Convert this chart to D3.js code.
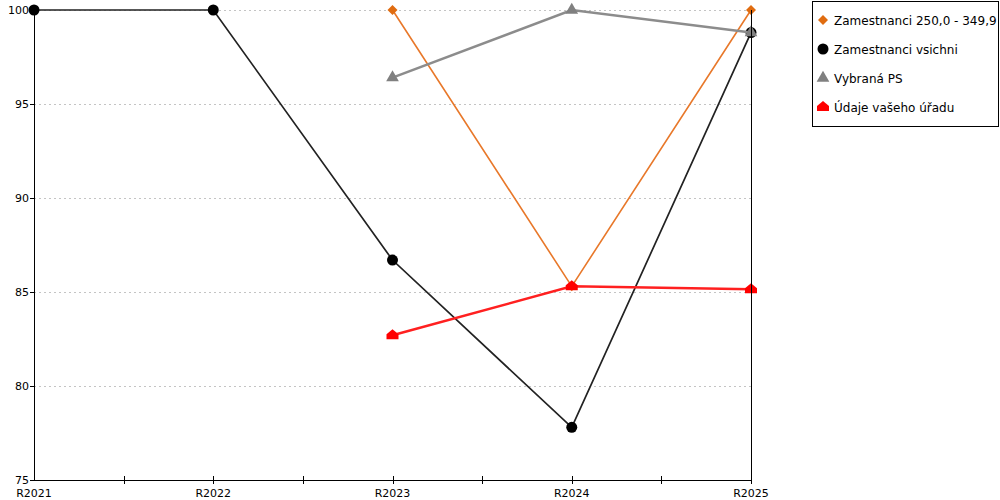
<!DOCTYPE html>
<html>
<head>
<meta charset="utf-8">
<script src="https://cdn.jsdelivr.net/npm/d3@7"></script>
<style>
  body { margin: 0; background: #fff; }
  text { font-family: "DejaVu Sans", Verdana, sans-serif; }
</style>
</head>
<body>
<script>
var years = ["R2021", "R2022", "R2023", "R2024", "R2025"];
var yTicks = [75, 80, 85, 90, 95, 100];

var seriesNames = ["Zamestnanci 250,0 - 349,9", "Zamestnanci vsichni", "Vybraná PS", "Údaje vašeho úřadu"];
var orangeVals = [null, null, 100, 85.3, 100];
var blackVals = [100, 100, 86.7, 77.8, 98.8];
var grayVals = [null, null, 96.4, 100, 98.8];
var redVals = [null, null, 82.7, 85.3, 85.15];

var W = 1000, H = 500;
var plotL = 34, plotR = 751, plotT = 10, plotB = 480;

var svg = d3.select("body").append("svg")
    .attr("width", W)
    .attr("height", H);

var x = d3.scalePoint().domain(years).range([plotL, plotR]);
var y = d3.scaleLinear().domain([75, 100]).range([plotB, plotT]);

// grid
svg.append("g").selectAll("line")
    .data(yTicks.filter(d => d > 75))
    .enter().append("line")
    .attr("x1", plotL).attr("x2", plotR)
    .attr("y1", d => y(d) + 0.5).attr("y2", d => y(d) + 0.5)
    .attr("stroke", "#c4c4c4")
    .attr("stroke-dasharray", "2,3");

// y axis
svg.append("line")
    .attr("x1", plotL + 0.5).attr("x2", plotL + 0.5)
    .attr("y1", plotT).attr("y2", plotB)
    .attr("stroke", "#000");
svg.append("g").selectAll("line")
    .data(yTicks).enter().append("line")
    .attr("x1", plotL - 4).attr("x2", plotL)
    .attr("y1", d => y(d) + 0.5).attr("y2", d => y(d) + 0.5)
    .attr("stroke", "#000");
svg.append("g").selectAll("text")
    .data(yTicks).enter().append("text")
    .attr("x", plotL - 5)
    .attr("y", d => y(d) + 4)
    .attr("text-anchor", "end")
    .attr("font-size", 11)
    .text(d => d);

// x axis
svg.append("line")
    .attr("x1", plotL).attr("x2", plotR)
    .attr("y1", plotB + 0.5).attr("y2", plotB + 0.5)
    .attr("stroke", "#000");
var step = x.step();
var xTickPos = [];
years.forEach((d, i) => {
    xTickPos.push(x(d));
    if (i < years.length - 1) xTickPos.push(x(d) + step / 2);
});
svg.append("g").selectAll("line")
    .data(xTickPos.slice(1)).enter().append("line")
    .attr("x1", d => Math.round(d) + 0.5).attr("x2", d => Math.round(d) + 0.5)
    .attr("y1", plotB - 4).attr("y2", plotB + 4)
    .attr("stroke", "#000");
svg.append("g").selectAll("text")
    .data(years).enter().append("text")
    .attr("x", d => x(d))
    .attr("y", 497)
    .attr("text-anchor", "middle")
    .attr("font-size", 11)
    .text(d => d);

// series
var line = d3.line()
    .defined(d => d.v != null)
    .x(d => x(d.k))
    .y(d => y(d.v));

var housePath = "M0,-6 L6,-1 L6,4 L-6,4 L-6,-1 Z";
var diamondPath = "M0,-5 L5,0 L0,5 L-5,0 Z";
var series = [
    { name: seriesNames[0], vals: orangeVals, color: "#e8782a", mark: "#e06c10", width: 1.6, shape: diamondPath },
    { name: seriesNames[1], vals: blackVals, color: "#222", mark: "#000", width: 1.7, shape: d3.symbol(d3.symbolCircle, 95)() },
    { name: seriesNames[2], vals: grayVals, color: "#8c8c8c", mark: "#808080", width: 2.5, shape: d3.symbol(d3.symbolTriangle, 70)() },
    { name: seriesNames[3], vals: redVals, color: "#ff2020", mark: "#ff0000", width: 2.5, shape: housePath }
];

series.forEach(s => {
    var pts = years.map((k, i) => ({ k: k, v: s.vals[i] }));
    svg.append("path")
        .datum(pts)
        .attr("d", line)
        .attr("fill", "none")
        .attr("stroke", s.color)
        .attr("stroke-width", s.width);
    svg.append("g").selectAll("path")
        .data(pts.filter(d => d.v != null))
        .enter().append("path")
        .attr("d", s.shape)
        .attr("transform", d => "translate(" + x(d.k) + "," + y(d.v) + ")")
        .attr("fill", s.mark);
});

// right edge line
svg.append("line")
    .attr("x1", plotR + 0.5).attr("x2", plotR + 0.5)
    .attr("y1", plotT).attr("y2", plotB + 4)
    .attr("stroke", "#000");

// legend
var lg = svg.append("g");
lg.append("rect")
    .attr("x", 812.5).attr("y", 1.5)
    .attr("width", 186).attr("height", 125)
    .attr("fill", "#fff")
    .attr("stroke", "#000");
series.forEach((s, i) => {
    var cy = 20 + i * 29;
    lg.append("path")
        .attr("d", s.shape)
        .attr("transform", "translate(823," + cy + ")")
        .attr("fill", s.mark);
    lg.append("text")
        .attr("x", 834)
        .attr("y", cy + 4.5)
        .attr("font-size", 12)
        .text(s.name);
});
</script>
</body>
</html>
